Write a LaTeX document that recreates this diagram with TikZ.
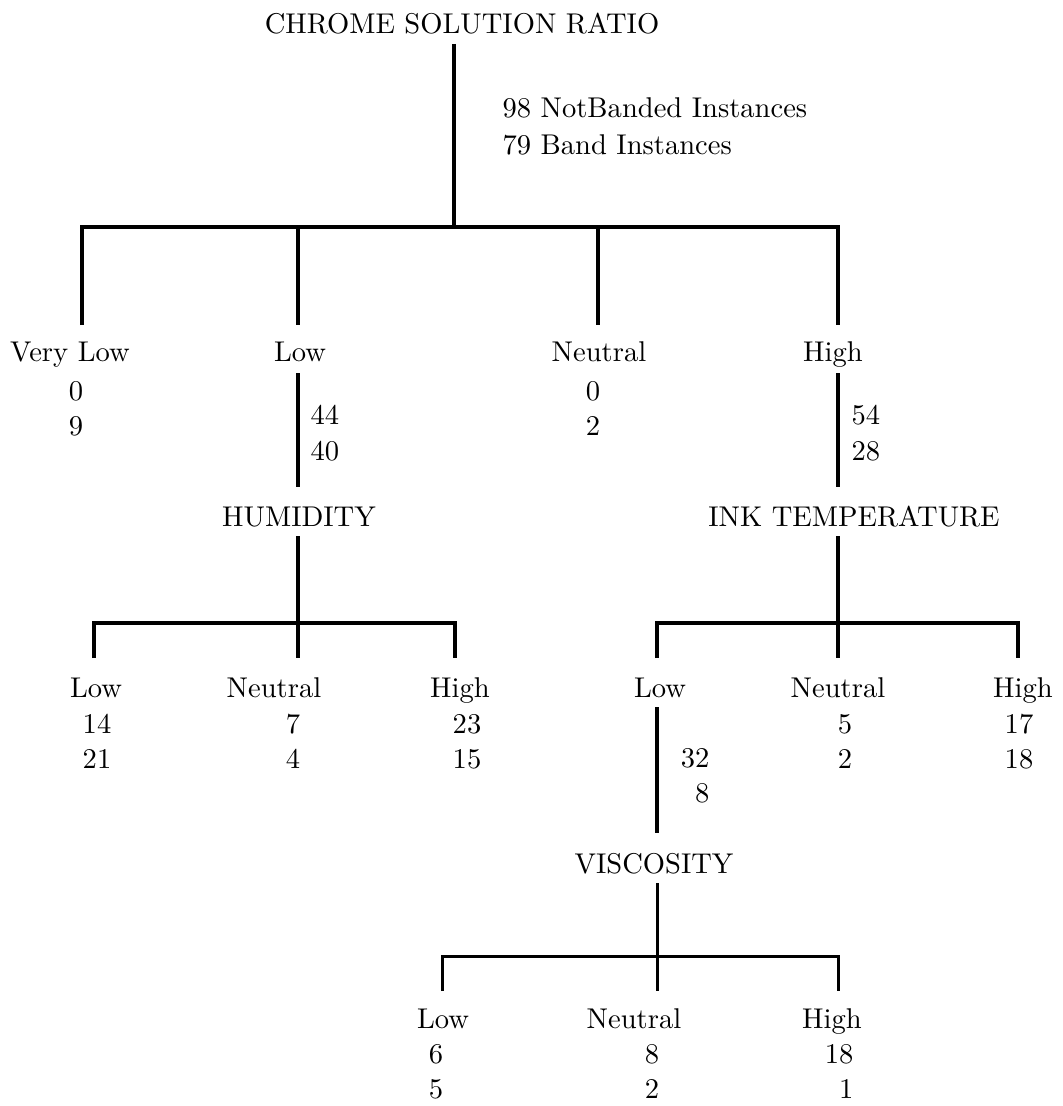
\documentclass[tikz,border=0pt]{standalone}
\begin{document}
\begin{tikzpicture}[x=0.35pt,y=-0.35pt,
  lbl/.style={inner sep=0pt,anchor=base},
  lblw/.style={inner sep=0pt,anchor=base west},
  lble/.style={inner sep=0pt,anchor=base east},
  wa/.style={line width=1.4pt,miter limit=10},
  wb/.style={line width=1.2pt},
  wc/.style={line width=1.05pt}]
\useasboundingbox (0,0) rectangle (1062,1106);
% root
\node[lbl] (root) at (462,34) {CHROME SOLUTION RATIO};
\node[lblw] (rc1) at (502,118) {98 NotBanded Instances};
\node[lblw] (rc2) at (502,155) {79 Band Instances};
\coordinate (r0) at (454,44);
\coordinate (rj) at (454,227);
\coordinate (b1a) at (82,227);
\coordinate (b1b) at (298,227);
\coordinate (b1c) at (598,227);
\coordinate (b1d) at (838,227);
\coordinate (e1a) at (82,325);
\coordinate (e1b) at (298,325);
\coordinate (e1c) at (598,325);
\coordinate (e1d) at (838,325);
\draw[wa] (r0) -- (rj);
\draw[wa] (e1a) -- (b1a) -- (b1d) -- (e1d);
\draw[wa] (b1b) -- (e1b);
\draw[wa] (b1c) -- (e1c);
% level 1 labels
\node[lbl] (vlow) at (70,361) {Very Low};
\node[lbl] (vlow1) at (76,400) {0};
\node[lbl] (vlow2) at (76,435) {9};
\node[lbl] (low) at (300,361) {Low};
\node[lblw] (low1) at (310,424) {44};
\node[lblw] (low2) at (310,460) {40};
\node[lbl] (neu) at (599,361) {Neutral};
\node[lbl] (neu1) at (593,400) {0};
\node[lbl] (neu2) at (593,435) {2};
\node[lbl] (high) at (833,361) {High};
\node[lblw] (high1) at (851,424) {54};
\node[lblw] (high2) at (851,460) {28};
% humidity subtree
\coordinate (l0) at (298,373);
\coordinate (l1) at (298,487);
\draw[wb] (l0) -- (l1);
\node[lbl] (hum) at (299,526) {HUMIDITY};
\coordinate (h0) at (298,536);
\coordinate (hj) at (298,623);
\coordinate (b2a) at (94,623);
\coordinate (b2c) at (455,623);
\coordinate (e2a) at (94,658);
\coordinate (e2b) at (298,658);
\coordinate (e2c) at (455,658);
\draw[wb] (h0) -- (e2b);
\draw[wb] (e2a) -- (b2a) -- (b2c) -- (e2c);
\node[lbl] (hlow) at (96,697) {Low};
\node[lbl] (hlow1) at (97,733) {14};
\node[lbl] (hlow2) at (97,768) {21};
\node[lbl] (hneu) at (274,697) {Neutral};
\node[lbl] (hneu1) at (293,733) {7};
\node[lbl] (hneu2) at (293,768) {4};
\node[lbl] (hhigh) at (460,697) {High};
\node[lbl] (hhigh1) at (467,733) {23};
\node[lbl] (hhigh2) at (467,768) {15};
% ink temperature subtree
\coordinate (g0) at (838,373);
\coordinate (g1) at (838,487);
\draw[wb] (g0) -- (g1);
\node[lbl] (ink) at (854,526) {INK TEMPERATURE};
\coordinate (i0) at (838,536);
\coordinate (b3a) at (657,623);
\coordinate (b3c) at (1018,623);
\coordinate (e3a) at (657,658);
\coordinate (e3b) at (838,658);
\coordinate (e3c) at (1018,658);
\draw[wb] (i0) -- (e3b);
\draw[wb] (e3a) -- (b3a) -- (b3c) -- (e3c);
\node[lbl] (ilow) at (660,697) {Low};
\node[lble] (ilow1) at (710,767) {32};
\node[lble] (ilow2) at (710,802) {8};
\node[lbl] (ineu) at (838,697) {Neutral};
\node[lbl] (ineu1) at (845,733) {5};
\node[lbl] (ineu2) at (845,768) {2};
\node[lbl] (ihigh) at (1023,697) {High};
\node[lbl] (ihigh1) at (1019,733) {17};
\node[lbl] (ihigh2) at (1019,768) {18};
% viscosity subtree
\coordinate (k0) at (657,707);
\coordinate (k1) at (657,833);
\draw[wb] (k0) -- (k1);
\node[lbl] (vis) at (654,873) {VISCOSITY};
\coordinate (v0) at (657,883);
\coordinate (b4a) at (442,956);
\coordinate (b4c) at (838,956);
\coordinate (e4a) at (442,991);
\coordinate (e4b) at (657,991);
\coordinate (e4c) at (838,991);
\draw[wc] (v0) -- (e4b);
\draw[wc] (e4a) -- (b4a) -- (b4c) -- (e4c);
\node[lbl] (vlo) at (443,1028) {Low};
\node[lbl] (vlo1) at (436,1063) {6};
\node[lbl] (vlo2) at (436,1098) {5};
\node[lbl] (vne) at (634,1028) {Neutral};
\node[lbl] (vne1) at (652,1063) {8};
\node[lbl] (vne2) at (652,1098) {2};
\node[lbl] (vhi) at (832,1028) {High};
\node[lble] (vhi1) at (854,1063) {18};
\node[lble] (vhi2) at (854,1098) {1};
\end{tikzpicture}
\end{document}
